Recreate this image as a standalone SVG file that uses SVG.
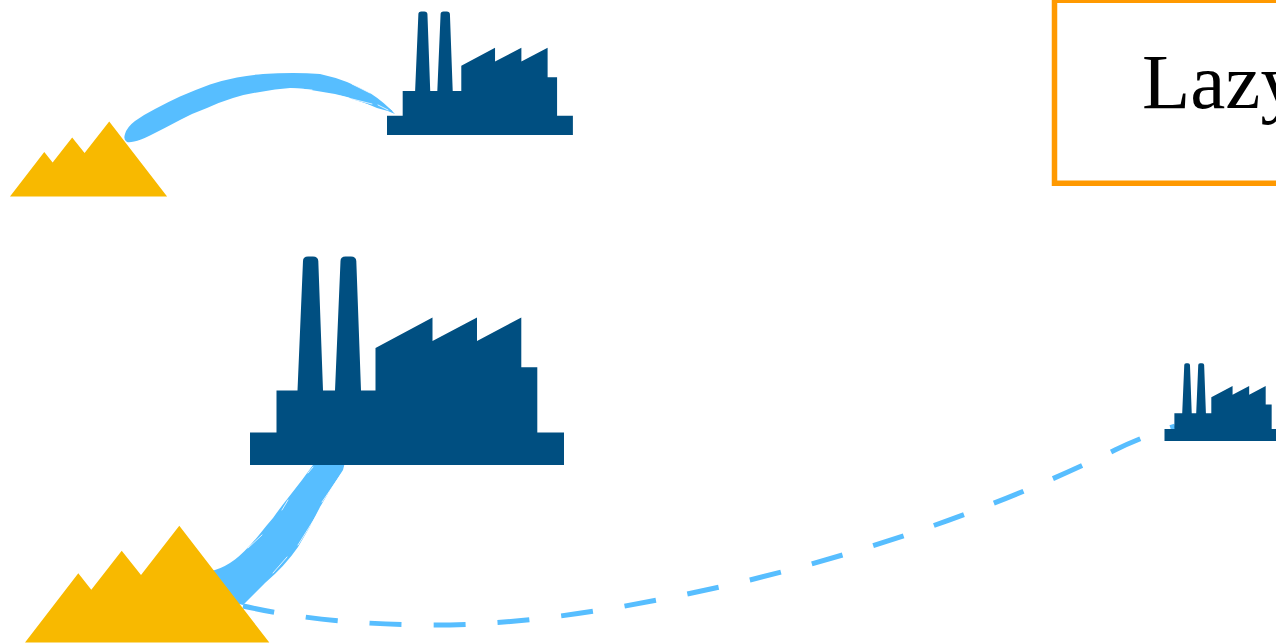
<svg xmlns="http://www.w3.org/2000/svg" width="1276" height="643" viewBox="0 0 1276 643">
<style>
.factory{fill:#004f81}
.mine{fill:#f8b900}
.brush{fill:#57beff}
.feather{fill:none;stroke:#fff;stroke-width:1;stroke-linecap:round;opacity:.8}
.tuft{fill:none;stroke:#57beff;stroke-width:1;stroke-linecap:round}
.route{fill:none;stroke:#57beff;stroke-width:5;stroke-dasharray:32 32}
.box{fill:#fff;stroke:#ff9900;stroke-width:5.500}
.label{font-family:"Liberation Serif","Times New Roman",serif;font-size:79px;fill:#000}
</style>
<defs>
<path id="factoryShape" d="M250 432.500H276.500V390.500H297.500L303 261Q303 256.500 308 256.500H313Q318 256.500 318.300 261L323 390.500H335L340.500 261Q340.500 256.500 345.500 256.500H351Q356 256.500 356.300 261L361 390.500H375.500V348L432.500 317.500V341L477 317.500V341L521.300 317.500V367.300H537.300V432.500H564V465H250Z"/>
<path id="mineShape" d="M25 642.500L78.300 573.300L91.300 589.700L121.700 550.700L141 575L179.300 525.700L269.300 642.500Z"/>
</defs>
<g id="connectors">
<path class="brush" d="M125 134Q127 127 135 121Q145 114 155 109Q168 102 180 96.500Q195 90 210 84.500Q224 80 237 77.500Q250 75 263 74Q278 73 293 73Q307 73 320 74Q334 77 347 82Q359 87 370 93Q384 102 395 114Q386 110 377 108Q362 101 347 97Q332 93 317 91Q303 88 290 88Q275 89 260 92Q246 94 233 98Q220 102 207 108Q193 113 180 120Q165 128 150 135.500Q145 138 141 139.500Q131 143 127 142Q123 140 125 134Z"/>
<path class="tuft" d="M362 90L392 111M368 96L390 110M350 98L386 109"/>
<path class="feather" d="M290 88.500L312 90M340 96L372 104M378 105L388 110M352 84L370 93"/>
<path class="brush" d="M205 572L215 570Q225 567 235 559.500Q245 552 259 535Q266 526 273 518Q280 508 288 498Q295 489 302 480L313 465L316 458H346L343 470Q331 488 320 507Q310 528 298 547Q285 566 265 583L243 605L225 600Z"/>
<path class="feather" d="M342 473L322 502M320 510L298 545M287 557L273 573M262 535L248 548M288 500L282 510M313 467L308 473"/>
<path class="route" d="M243 606C300 619 365 625 435 625C530 625 640 606 750 580C880 548 1000 506 1115 450C1135 440 1155 433 1175 426"/>
</g>
<g id="factory-top"><use class="factory" href="#factoryShape" transform="translate(387 135) scale(.592) translate(-250 -465)"/></g>
<g id="factory-main"><use class="factory" href="#factoryShape"/></g>
<g id="factory-right"><use class="factory" href="#factoryShape" transform="translate(1164.500 441) scale(.373) translate(-250 -465)"/></g>
<g id="mine-top"><use class="mine" href="#mineShape" transform="translate(10 196.500) scale(.643) translate(-25 -642.500)"/></g>
<g id="mine-main"><use class="mine" href="#mineShape"/></g>
<g id="lazy-box">
<rect class="box" x="1054.500" y="0.250" width="300" height="183"/>
<text class="label" x="1142" y="108">Lazy</text>
</g>
</svg>
